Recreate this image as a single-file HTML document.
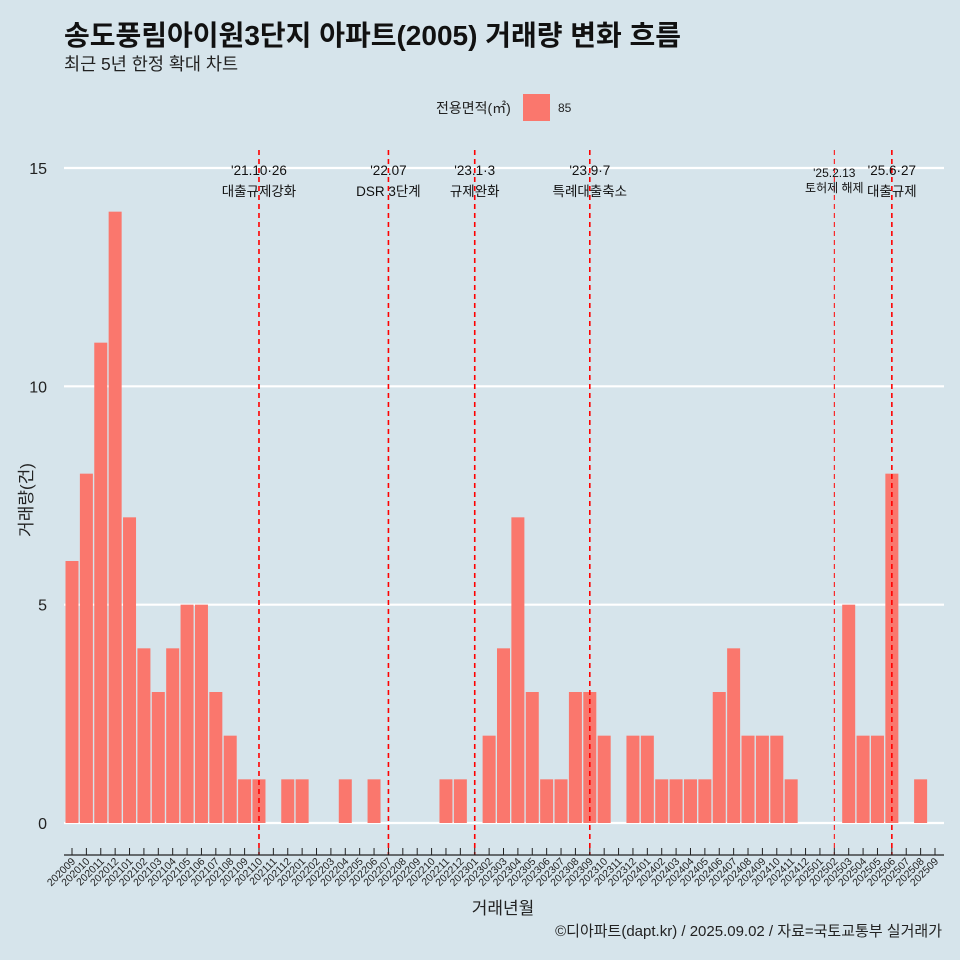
<!DOCTYPE html>
<html><head><meta charset="utf-8">
<style>
body{margin:0;background:#d6e4eb;}
svg{display:block;font-family:"Liberation Sans","Noto Sans CJK KR",sans-serif;}
</style></head>
<body>
<svg id="chart" width="960" height="960" viewBox="0 0 960 960">
<rect width="960" height="960" fill="#d6e4eb"/>
<text x="64" y="45" font-size="28" font-weight="bold" fill="#111">송도풍림아이원3단지 아파트(2005) 거래량 변화 흐름</text>
<text x="64" y="70" font-size="17.5" fill="#222">최근 5년 한정 확대 차트</text>
<g>
<text x="436" y="113" font-size="14" fill="#222">전용면적(㎡)</text>
<rect x="523" y="94" width="27" height="27" fill="#fa776d"/>
<text x="558" y="112" font-size="12" fill="#222">85</text>
</g>
<g id="grid"></g>
<g id="bars"></g>
<g id="events"></g>
<g id="xaxis"></g>
<text x="32" y="500" font-size="17" fill="#222" text-anchor="middle" transform="rotate(-90 32 500)">거래량(건)</text>
<text x="503" y="914" font-size="17" fill="#222" text-anchor="middle">거래년월</text>
<text x="942" y="936" font-size="15" fill="#222" text-anchor="end">©디아파트(dapt.kr) / 2025.09.02 / 자료=국토교통부 실거래가</text>
</svg>
<script>
const categories=["202009","202010","202011","202012","202101","202102","202103","202104","202105","202106","202107","202108","202109","202110","202111","202112","202201","202202","202203","202204","202205","202206","202207","202208","202209","202210","202211","202212","202301","202302","202303","202304","202305","202306","202307","202308","202309","202310","202311","202312","202401","202402","202403","202404","202405","202406","202407","202408","202409","202410","202411","202412","202501","202502","202503","202504","202505","202506","202507","202508","202509"];
const values=[6,8,11,14,7,4,3,4,5,5,3,2,1,1,0,1,1,0,0,1,0,1,0,0,0,0,1,1,0,2,4,7,3,1,1,3,3,2,0,2,2,1,1,1,1,3,4,2,2,2,1,0,0,0,5,2,2,8,0,1,0];
const yTicks=[0,5,10,15];
const eventMonths=["202110","202207","202301","202309","202502","202506"];
const eventDates=["'21.10·26","'22.07","'23.1·3","'23.9·7","'25.2.13","'25.6·27"];
const eventLabels=["대출규제강화","DSR 3단계","규제완화","특례대출축소","토허제 해제","대출규제"];
const eventThin=[false,false,false,false,true,false];

const NS="http://www.w3.org/2000/svg";
const x0=72, step=(935-72)/60;
const xs=i=>x0+i*step;
const ys=v=>823-v*(823-168)/15;
function mk(tag,attrs,parent){const e=document.createElementNS(NS,tag);for(const k in attrs)e.setAttribute(k,attrs[k]);parent.appendChild(e);return e;}
const grid=document.getElementById('grid'),bars=document.getElementById('bars'),ev=document.getElementById('events'),xa=document.getElementById('xaxis');
yTicks.forEach(t=>{
  const l=mk('line',{x1:64,x2:944,y1:ys(t),y2:ys(t),stroke:'#fff','stroke-width':2.2},grid);
  
  
  const tx=mk('text',{x:47,y:ys(t)+6,'font-size':16,fill:'#222','text-anchor':'end'},grid);
  tx.textContent=t;
  
  
});
values.forEach((v,i)=>{
  if(v<=0)return;
  const r=mk('rect',{x:xs(i)-6.5,y:ys(v),width:13,height:ys(0)-ys(v),fill:'#fa776d'},bars);
  
  
});
eventMonths.forEach((m,k)=>{
  const i=categories.indexOf(m),x=xs(i);
  const l=mk('line',{x1:x,x2:x,y1:150,y2:855,stroke:'#f00','stroke-width':eventThin[k]?1:1.6,'stroke-dasharray':'5,4'},ev);
  
  
  const small=eventThin[k];
  const d=mk('text',{x:x,y:small?177:175,'font-size':small?12:13.5,fill:'#111','text-anchor':'middle'},ev);
  d.textContent=eventDates[k];
  
  
  const t=mk('text',{x:x,y:small?192:196,'font-size':small?12:13.5,fill:'#111','text-anchor':'middle'},ev);
  t.textContent=eventLabels[k];
  
  
});
const ax=mk('line',{x1:64,x2:944,y1:855,y2:855,stroke:'#222','stroke-width':1.2},xa);


categories.forEach((c,i)=>{
  const x=xs(i);
  const tk=mk('line',{x1:x,x2:x,y1:848,y2:855,stroke:'#222','stroke-width':1},xa);
  
  
  const t=mk('text',{x:x+4,y:862,'font-size':10.5,fill:'#222','text-anchor':'end',transform:`rotate(-45 ${x+4} 862)`},xa);
  t.textContent=c;
  
  
});
</script>
</body></html>
